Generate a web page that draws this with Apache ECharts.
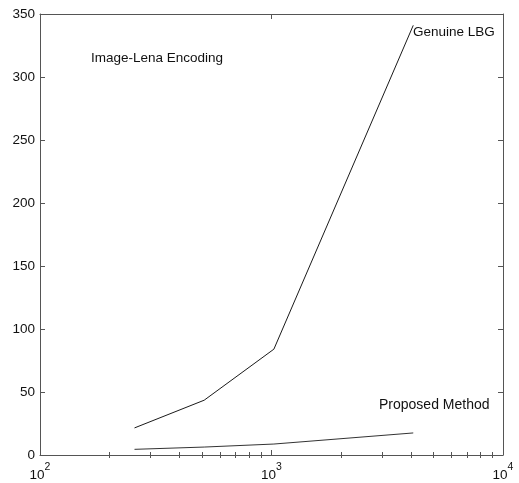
<!DOCTYPE html>
<html>
<head>
<meta charset="utf-8">
<script src="https://cdn.jsdelivr.net/npm/echarts@6/dist/echarts.min.js"></script>
<style>html,body{margin:0;padding:0;background:#fff}#c{width:519px;height:483px}</style>
</head>
<body>
<div id="c"></div>
<script>
const codebookSizes = [256, 512, 1024, 4096];
const genuineLBG = [21.5, 43.5, 84, 341];
const proposedMethod = [4.5, 6.3, 8.7, 17.5];
const yTicks = [0, 50, 100, 150, 200, 250, 300, 350];
const majorX = [100, 1000, 10000];
const minorX = [200,300,400,500,600,700,800,900,2000,3000,4000,5000,6000,7000,8000,9000];

const FONT = '"Liberation Sans", Arial, Helvetica, sans-serif';
const axisColor = '#555';

const chart = echarts.init(document.getElementById('c'), null, {renderer: 'canvas'});

function xAxisBase(extra) {
  return Object.assign({
    type: 'log', logBase: 10, min: 100, max: 10000,
    axisLine: {show: false},
    axisLabel: {show: false},
    splitLine: {show: false},
    minorTick: {show: false},
    axisTick: {show: false}
  }, extra);
}

const option = {
  animation: false,
  backgroundColor: '#fff',
  grid: {left: 40, right: 16, top: 14, bottom: 28, containLabel: false},
  xAxis: [
    xAxisBase({
      position: 'bottom',
      axisLine: {show: true, onZero: false, lineStyle: {color: axisColor, width: 1}},
      axisTick: {show: true, inside: true, length: 5, customValues: majorX, lineStyle: {color: axisColor}},
      axisLabel: {
        show: true, margin: 7, customValues: majorX,
        fontFamily: FONT, color: '#111',
        formatter: function (v) {
          const e = Math.round(Math.log10(v));
          return '{b|10}{s|' + e + '}';
        },
        rich: {
          b: {fontSize: 13.5, fontFamily: FONT, color: '#111', lineHeight: 20, verticalAlign: 'bottom'},
          s: {fontSize: 10.5, fontFamily: FONT, color: '#111', lineHeight: 4, verticalAlign: 'top'}
        }
      }
    }),
    xAxisBase({
      position: 'bottom',
      axisTick: {show: true, inside: true, length: 3, customValues: minorX, lineStyle: {color: axisColor}}
    }),
    xAxisBase({
      position: 'top',
      axisLine: {show: true, onZero: false, lineStyle: {color: axisColor, width: 1}},
      axisTick: {show: true, inside: true, length: 5, customValues: majorX, lineStyle: {color: axisColor}}
    }),
    xAxisBase({
      position: 'top',
      axisTick: {show: true, inside: true, length: 3, customValues: minorX, lineStyle: {color: axisColor}}
    })
  ],
  yAxis: [
    {
      type: 'value', min: 0, max: 350, interval: 50, position: 'left',
      axisLine: {show: true, onZero: false, lineStyle: {color: axisColor, width: 1}},
      axisTick: {show: true, inside: true, length: 5, lineStyle: {color: axisColor}},
      splitLine: {show: false},
      axisLabel: {show: true, margin: 5, fontSize: 13.5, fontFamily: FONT, color: '#111', customValues: yTicks}
    },
    {
      type: 'value', min: 0, max: 350, interval: 50, position: 'right',
      axisLine: {show: true, onZero: false, lineStyle: {color: axisColor, width: 1}},
      axisTick: {show: true, inside: true, length: 5, lineStyle: {color: axisColor}},
      splitLine: {show: false},
      axisLabel: {show: false}
    }
  ],
  series: [
    {
      name: 'Genuine LBG', type: 'line', xAxisIndex: 0, yAxisIndex: 0,
      data: codebookSizes.map((x, i) => [x, genuineLBG[i]]),
      showSymbol: false, symbol: 'none',
      lineStyle: {color: '#1a1a1a', width: 1}
    },
    {
      name: 'Proposed Method', type: 'line', xAxisIndex: 0, yAxisIndex: 0,
      data: codebookSizes.map((x, i) => [x, proposedMethod[i]]),
      showSymbol: false, symbol: 'none',
      lineStyle: {color: '#333', width: 1}
    }
  ],
  graphic: [
    {type: 'text', left: 91, top: 51, style: {text: 'Image-Lena Encoding', fontSize: 13.5, fontFamily: FONT, fill: '#111'}},
    {type: 'text', left: 413, top: 25, style: {text: 'Genuine LBG', fontSize: 13.5, fontFamily: FONT, fill: '#111'}},
    {type: 'text', left: 379, top: 398, style: {text: 'Proposed Method', fontSize: 14, fontFamily: FONT, fill: '#111'}}
  ]
};
chart.setOption(option);
</script>
</body>
</html>
